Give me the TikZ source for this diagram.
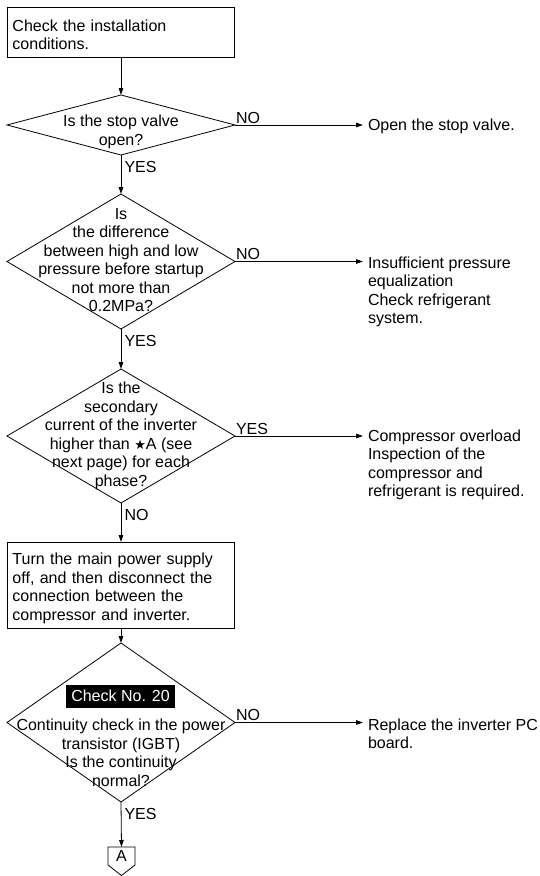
\documentclass[tikz,border=0pt]{standalone}
\usepackage{fontspec}
\setmainfont{Liberation Sans}
\newfontfamily\symfont{DejaVu Sans}
\usetikzlibrary{shapes.geometric,arrows.meta,calc}
\begin{document}
\begin{tikzpicture}[x=1pt,y=-1pt,
  every node/.style={font=\fontsize{16pt}{18.5pt}\selectfont, inner sep=0pt, outer sep=0pt},
  stepbox/.style={draw, line width=0.8pt, minimum width=227pt},
  steptext/.style={text width=217pt, align=left},
  decision/.style={draw, shape=diamond, line width=0.8pt, minimum width=228pt, inner sep=0pt},
  qtext/.style={align=center},
  checktag/.style={fill=black, text=white, minimum width=109pt, minimum height=23pt},
  result/.style={anchor=west, align=left},
  flow/.style={line width=0.8pt, -{Triangle[length=7pt,width=4.5pt]}},
  downlab/.style={pos=0, anchor=north west, inner sep=1pt, xshift=2.5pt, yshift=-5pt},
  sidelab/.style={pos=0, anchor=south west, inner sep=1pt, yshift=0.5pt}
]
\useasboundingbox (0,0) rectangle (540,876);

% main column
\node[stepbox, minimum height=50pt] (start) at (121,32) {};
\node[steptext] (starttext) at (121,35) {Check the installation\\conditions.};

\node[decision, minimum height=60pt] (d1) at (121,125) {};
\node[qtext] (q1) at (121,132) {Is the stop valve\\open?};

\node[decision, minimum height=135pt] (d2) at (121,261.5) {};
\node[qtext] (q2) at (121,260) {Is\\the difference\\between high and low\\pressure before startup\\not more than\\0.2MPa?};

\node[decision, minimum height=134pt] (d3) at (121,436) {};
\node[qtext] (q3) at (121,436) {Is the\\secondary\\current of the inverter\\higher than {\fontsize{13pt}{13pt}\symfont ★}A (see\\next page) for each\\phase?};

\node[stepbox, minimum height=86pt] (cut) at (121,585) {};
\node[steptext] (cuttext) at (121,588.5) {Turn the main power supply\\off, and then disconnect the\\connection between the\\compressor and inverter.};

\node[decision, minimum height=159pt] (d4) at (121,722.5) {};
\node[checktag] (chk) at (120.5,696) {Check No. 20};
\node[qtext] (q4) at (121,753) {Continuity check in the power\\transistor (IGBT)\\Is the continuity\\normal?};

% off-page connector
\node[minimum width=27pt, minimum height=18pt] (conA) at (121.5,856) {A};
\draw[line width=0.8pt] (conA.north west) -- (conA.north east) -- (conA.south east)
  -- ($(conA.south)+(0,10.5)$) -- (conA.south west) -- cycle;

% outcomes on the right
\node[result] (r1) at (368,126) {Open the stop valve.};
\node[result] (r2) at (368,292) {Insufficient pressure\\equalization\\Check refrigerant\\system.};
\node[result] (r3) at (368,465) {Compressor overload\\Inspection of the\\compressor and\\refrigerant is required.};
\node[result] (r4) at (368,734) {Replace the inverter PC\\board.};

% vertical flow
\draw[flow] (start.south) -- (d1.north);
\draw[flow] (d1.south) -- node[downlab] (y1) {YES} (d2.north);
\draw[flow] (d2.south) -- node[downlab] (y2) {YES} (d3.north);
\draw[flow] (d3.south) -- node[downlab] (n3) {NO} (cut.north);
\draw[flow] (cut.south) -- (d4.north);
\draw[flow] (d4.south) -- node[downlab] (y4) {YES} (conA.north);

% branches to the right
\draw[flow, shorten >=5pt] (d1.east) -- node[sidelab] (n1) {NO} (d1.east -| r1.west);
\draw[flow, shorten >=5pt] (d2.east) -- node[sidelab] (n2) {NO} (d2.east -| r2.west);
\draw[flow, shorten >=5pt] (d3.east) -- node[sidelab] (y3) {YES} (d3.east -| r3.west);
\draw[flow, shorten >=5pt] (d4.east) -- node[sidelab] (n4) {NO} (d4.east -| r4.west);
\end{tikzpicture}
\end{document}
